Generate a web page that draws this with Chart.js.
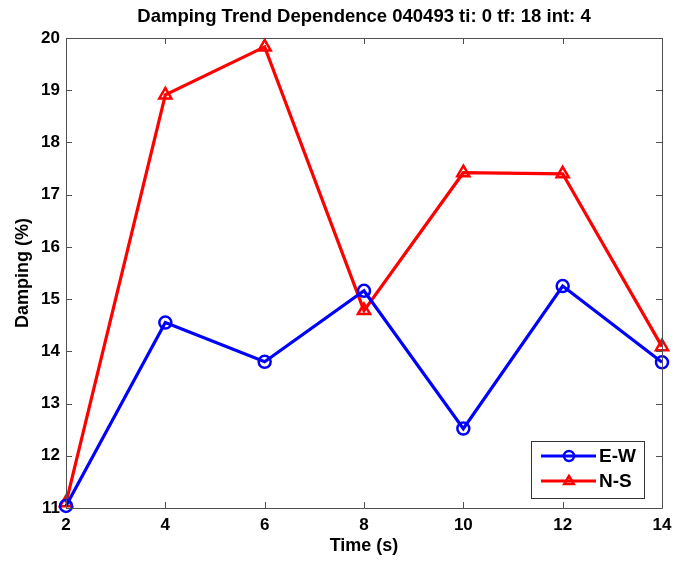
<!DOCTYPE html>
<html>
<head>
<meta charset="utf-8">
<script src="https://cdn.jsdelivr.net/npm/chart.js@4/dist/chart.umd.min.js"></script>
<style>
  html, body { margin: 0; padding: 0; background: #fff; }
  #wrap { width: 675px; height: 561px; position: relative; }
</style>
</head>
<body>
<div id="wrap"><canvas id="c" width="675" height="561"></canvas></div>
<script>
// Sample times (s)
const times = [2, 4, 6, 8, 10, 12, 14];
// Damping (%) per direction
const dampingEW = [11.04, 14.55, 13.80, 15.16, 12.52, 15.25, 13.79];
const dampingNS = [11.10, 18.91, 19.83, 14.78, 17.42, 17.40, 14.09];
const seriesNames = ['E-W', 'N-S'];
const xTicks = [2, 4, 6, 8, 10, 12, 14];
const yTicks = [11, 12, 13, 14, 15, 16, 17, 18, 19, 20];
const titleText = 'Damping Trend Dependence 040493 ti: 0 tf: 18 int: 4';

const FONT = '"Liberation Sans", Arial, Helvetica, sans-serif';
const AXIS_COLOR = '#505050';

function toPoints(ys) { return times.map((t, i) => ({ x: t, y: ys[i] })); }

// Box around the axes with inward tick marks on all four sides
const boxAxes = {
  id: 'boxAxes',
  afterDatasetsDraw(chart) {
    const { ctx, chartArea: a, scales: { x, y } } = chart;
    ctx.save();
    ctx.strokeStyle = AXIS_COLOR;
    ctx.lineWidth = 1;
    ctx.beginPath();
    ctx.rect(Math.round(a.left) + 0.5, Math.round(a.top) + 0.5,
             Math.round(a.right - a.left), Math.round(a.bottom - a.top));
    ctx.stroke();
    const len = 6;
    ctx.beginPath();
    xTicks.forEach(v => {
      const px = Math.round(x.getPixelForValue(v)) + 0.5;
      ctx.moveTo(px, a.bottom); ctx.lineTo(px, a.bottom - len);
      ctx.moveTo(px, a.top); ctx.lineTo(px, a.top + len);
    });
    yTicks.forEach(v => {
      const py = Math.round(y.getPixelForValue(v)) + 0.5;
      ctx.moveTo(a.left, py); ctx.lineTo(a.left + len, py);
      ctx.moveTo(a.right, py); ctx.lineTo(a.right - len, py);
    });
    ctx.stroke();
    ctx.restore();
  }
};

// Title above the axes and the boxed legend in the lower right corner
const annotations = {
  id: 'annotations',
  afterDraw(chart) {
    const { ctx, chartArea: a } = chart;
    ctx.save();
    ctx.fillStyle = '#000';
    ctx.font = 'bold 18.5px ' + FONT;
    ctx.textAlign = 'center';
    ctx.textBaseline = 'middle';
    ctx.fillText(titleText, (a.left + a.right) / 2, 17);

    // legend
    const bx = 531, by = 441, bw = 113, bh = 57;
    ctx.fillStyle = '#fff';
    ctx.fillRect(bx, by, bw, bh);
    ctx.strokeStyle = '#333';
    ctx.lineWidth = 1;
    ctx.strokeRect(bx + 0.5, by + 0.5, bw, bh);
    chart.data.datasets.forEach((ds, i) => {
      const ly = by + 15 + i * 25;
      ctx.strokeStyle = ds.borderColor;
      ctx.lineWidth = 3;
      ctx.beginPath();
      ctx.moveTo(bx + 10, ly); ctx.lineTo(bx + 65, ly);
      ctx.stroke();
      ctx.lineWidth = 2.5;
      const mx = bx + 38;
      ctx.beginPath();
      if (ds.pointStyle === 'triangle') {
        const r = 5;
        ctx.moveTo(mx, ly - r);
        ctx.lineTo(mx + r * 0.95, ly + r * 0.6);
        ctx.lineTo(mx - r * 0.95, ly + r * 0.6);
        ctx.closePath();
      } else {
        ctx.arc(mx, ly, 5, 0, Math.PI * 2);
      }
      ctx.stroke();
      ctx.fillStyle = '#000';
      ctx.font = 'bold 19px ' + FONT;
      ctx.textAlign = 'left';
      ctx.textBaseline = 'middle';
      ctx.fillText(ds.label, bx + 68, ly + 1);
    });
    ctx.restore();
  }
};

new Chart(document.getElementById('c'), {
  type: 'line',
  data: {
    datasets: [
      {
        label: seriesNames[0],
        data: toPoints(dampingEW),
        borderColor: '#0000ff',
        backgroundColor: 'transparent',
        borderWidth: 3.2,
        pointStyle: 'circle',
        pointRadius: 6,
        pointBorderWidth: 2.5,
        pointBackgroundColor: 'transparent',
        pointBorderColor: '#0000ff',
        tension: 0
      },
      {
        label: seriesNames[1],
        data: toPoints(dampingNS),
        borderColor: '#ff0000',
        backgroundColor: 'transparent',
        borderWidth: 3.2,
        pointStyle: 'triangle',
        pointRadius: 7,
        pointBorderWidth: 2.5,
        pointBackgroundColor: 'transparent',
        pointBorderColor: '#ff0000',
        tension: 0
      }
    ]
  },
  options: {
    responsive: false,
    animation: false,
    events: [],
    clip: false,
    layout: { padding: { left: 0, right: 13, top: 38, bottom: 0 } },
    plugins: {
      legend: { display: false },
      title: { display: false },
      tooltip: { enabled: false }
    },
    scales: {
      x: {
        type: 'linear',
        min: 2, max: 14,
        afterBuildTicks: s => { s.ticks = xTicks.map(v => ({ value: v })); },
        afterFit: s => { s.height = 53; s.paddingLeft = 0; s.paddingRight = 0; },
        grid: { display: false, drawTicks: false },
        border: { display: false },
        ticks: { color: '#000', padding: 7, maxRotation: 0, font: { family: FONT, size: 17, weight: 'bold' } },
        title: { display: true, text: 'Time (s)', color: '#000', padding: { top: 0, bottom: 4 },
                 font: { family: FONT, size: 18, weight: 'bold' } }
      },
      y: {
        type: 'linear',
        min: 11, max: 20,
        afterBuildTicks: s => { s.ticks = yTicks.map(v => ({ value: v })); },
        afterFit: s => { s.width = 66; },
        grid: { display: false, drawTicks: false },
        border: { display: false },
        ticks: { color: '#000', padding: 6, font: { family: FONT, size: 17, weight: 'bold' } },
        title: { display: true, text: 'Damping (%)', color: '#000', padding: { top: 12, bottom: 0 },
                 font: { family: FONT, size: 18, weight: 'bold' } }
      }
    }
  },
  plugins: [boxAxes, annotations]
});
</script>
</body>
</html>
